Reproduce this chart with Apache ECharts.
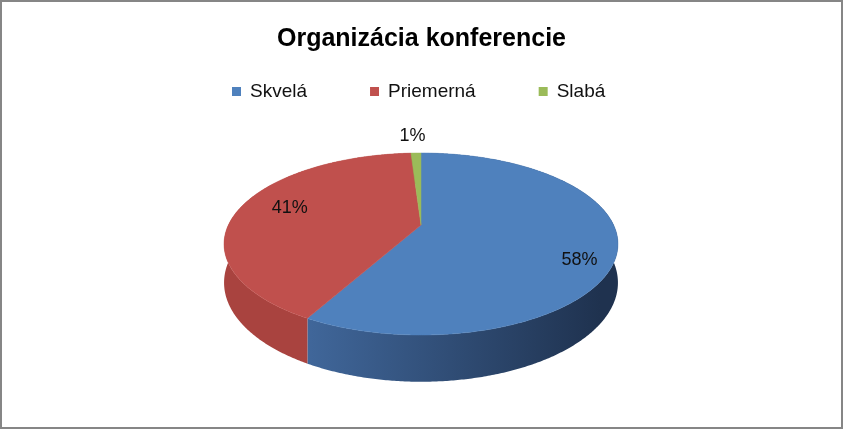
<!DOCTYPE html>
<html>
<head>
<meta charset="utf-8">
<script src="https://cdn.jsdelivr.net/npm/echarts@6/dist/echarts.min.js"></script>
<style>
html,body{margin:0;padding:0;background:#fff;}
#chart{width:843px;height:429px;}
</style>
</head>
<body>
<div id="chart"></div>
<script>
// ---- data ----
const titleText = 'Organizácia konferencie';
const categories = ['Skvelá', 'Priemerná', 'Slabá'];
const values = [58, 41, 1];

// ---- styles ----
const topColors = ['#4F81BD', '#C0504D', '#9BBB59'];
const wallColors = [['#41689C', '#1F324F'], ['#A9433F', '#973C39'], ['#809E48', '#6C873B']];
const labelRadius = [0.75, 0.75, 1.1];
const labelShift = [[13, 18], [5, -3], [-3, -11]];

const FONT = '"Liberation Sans", Arial, sans-serif';
const total = values.reduce((a, b) => a + b, 0);

// perspective ellipse geometry (layout)
const G = { cx: 421, b: 225, a: 40.05, c: -0.2088, k: 192.6, d: 37 };
function proj(theta, r, h) {
  const u = r * Math.sin(theta), v = -r * Math.cos(theta);
  const den = 1 + G.c * v;
  return [G.cx + G.k * u / den, (G.b + G.a * v + G.d * h) / den];
}
function startAngle(i) {
  let s = 0;
  for (let j = 0; j < i; j++) s += values[j];
  return s / total * Math.PI * 2;
}
function arc(a0, a1, h) {
  const pts = [];
  const n = Math.max(2, Math.ceil((a1 - a0) / (Math.PI / 360)));
  for (let t = 0; t <= n; t++) pts.push(proj(a0 + (a1 - a0) * t / n, 1, h));
  return pts;
}

function topRender(i) {
  return function (params, api) {
    const a0 = startAngle(i);
    const a1 = a0 + api.value(0) / total * Math.PI * 2;
    const pts = [proj(0, 0, 0)].concat(arc(a0, a1, 0));
    const mid = (a0 + a1) / 2;
    const lp = proj(mid, labelRadius[i], 0);
    return {
      type: 'group',
      children: [
        { type: 'polygon', shape: { points: pts }, style: { fill: topColors[i], stroke: topColors[i], lineWidth: 0.5 } },
        { type: 'text', z2: 10, x: lp[0] + labelShift[i][0], y: lp[1] + labelShift[i][1],
          style: { text: Math.round(api.value(0) / total * 100) + '%', fill: '#111',
                   font: '18px ' + FONT, align: 'center', verticalAlign: 'middle' } }
      ]
    };
  };
}
function wallRender(i) {
  return function (params, api) {
    const a0 = startAngle(i);
    const a1 = a0 + api.value(0) / total * Math.PI * 2;
    const pts = arc(a0, a1, 0).concat(arc(a0, a1, 1).reverse());
    return {
      type: 'polygon', shape: { points: pts },
      style: {
        fill: { type: 'linear', x: 300, y: 0, x2: 600, y2: 0, global: true,
                colorStops: [{ offset: 0, color: wallColors[i][0] }, { offset: 1, color: wallColors[i][1] }] },
        stroke: null
      }
    };
  };
}

const series = [];
categories.forEach((name, i) => {
  series.push({ type: 'custom', name: name + ' ', coordinateSystem: 'none', z: 1, silent: true,
                renderItem: wallRender(i), data: [values[i]], itemStyle: { color: wallColors[i][0] } });
});
categories.forEach((name, i) => {
  series.push({ type: 'custom', name: name, coordinateSystem: 'none', z: 2,
                renderItem: topRender(i), data: [values[i]], itemStyle: { color: topColors[i] } });
});

const chart = echarts.init(document.getElementById('chart'), null, { renderer: 'canvas' });
chart.setOption({
  animation: false,
  backgroundColor: '#fff',
  title: { text: titleText, left: 'center', top: 22,
           textStyle: { fontFamily: FONT, fontSize: 25, fontWeight: 'bold', color: '#000' } },
  legend: { data: categories, left: 227, top: 77, icon: 'rect', itemWidth: 9, itemHeight: 9,
            itemGap: 63, textStyle: { fontFamily: FONT, fontSize: 19, color: '#111', padding: [0, 0, 0, 4] } },
  graphic: [{ type: 'rect', shape: { x: 1, y: 1, width: 841, height: 427 },
              style: { fill: 'none', stroke: '#868686', lineWidth: 2 }, z: 100 }],
  series: series
});
</script>
</body>
</html>
